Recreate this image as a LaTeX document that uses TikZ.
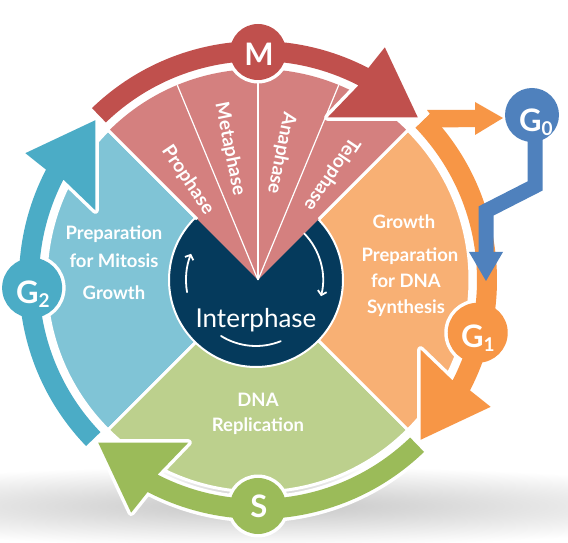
\documentclass[tikz,border=0pt]{standalone}
\usepackage{fontspec}
\setmainfont{Lato}
\usetikzlibrary{arrows.meta}
\definecolor{bandred}{HTML}{C0504D}
\definecolor{secred}{HTML}{D4807F}
\definecolor{bandorange}{HTML}{F79646}
\definecolor{secorange}{HTML}{F8B074}
\definecolor{bandgreen}{HTML}{9BBB59}
\definecolor{secgreen}{HTML}{BCD08D}
\definecolor{bandblue}{HTML}{4BACC6}
\definecolor{secblue}{HTML}{80C4D6}
\definecolor{navy}{HTML}{053A5C}
\definecolor{gzero}{HTML}{4F81BD}
\newcommand{\arrowshape}[2]{\path[#2, rotate=#1] (134:239pt) arc[start angle=134,end angle=62.5,radius=239pt] -- (61.4:265pt) -- (45.5:228pt) -- (66.8:177pt) -- (62.7:219pt) arc[start angle=62.7,end angle=134,radius=219pt] -- cycle;}
\tikzset{
  sector/.style={draw=white, line width=3pt, line join=round},
  whiteout/.style={draw=white, line width=7pt, line join=round},
  lab/.style={text=white, font=\fontsize{18.5}{20}\selectfont\bfseries, inner sep=0pt, text height=13.3pt, text depth=0pt},
  mlab/.style={lab, font=\fontsize{19}{20}\selectfont\bfseries, text height=13.7pt},
  glab/.style={text=white, font=\fontsize{31}{31}\selectfont\bfseries, inner sep=0pt, text height=22.3pt, text depth=0pt},
  inarrow/.style={white, line width=1.8pt, line cap=round}
}
\begin{document}
\begin{tikzpicture}[x=1pt,y=1pt]
\useasboundingbox (-258,-263) rectangle (310,280);
% shadow
\shade[inner color=gray!45, outer color=white] (4,-226) ellipse [x radius=500pt, y radius=40pt];
% sectors
\filldraw[sector, fill=secblue] (0,0) -- (135:212pt) arc[start angle=135,end angle=225,radius=212pt] -- cycle;
\filldraw[sector, fill=secgreen] (0,0) -- (225:212pt) arc[start angle=225,end angle=315,radius=212pt] -- cycle;
\filldraw[sector, fill=secorange] (0,0) -- (-45:212pt) arc[start angle=-45,end angle=45,radius=212pt] -- cycle;
% interphase circle
\filldraw[fill=navy, draw=white, line width=2pt] (-2,0) circle[radius=87pt];
% mitosis wedge
\fill[secred] (0,0) -- (45:211pt) arc[start angle=45,end angle=135,radius=211pt] -- cycle;
\draw[white, line width=3pt] (45:86pt) -- (45:213pt);
\draw[white, line width=3pt] (135:86pt) -- (135:213pt);
\foreach \a in {67.5,90,112.5} \draw[white, line width=1.2pt] (0,0) -- (\a:211pt);
% inner arrows
\begin{scope}[shift={(-2,0)}]
  \draw[inarrow, -{Straight Barb[length=4pt,width=9pt]}] (190:70pt) arc[start angle=190,end angle=158,radius=70pt];
  \draw[inarrow, -{Straight Barb[length=4pt,width=9pt]}] (44:67pt) arc[start angle=44,end angle=-14,radius=67pt];
  \draw[inarrow] (238:66pt) arc[start angle=238,end angle=292,radius=66pt];
\end{scope}
% M arrow
\arrowshape{0}{whiteout}
\path[whiteout] (90:228pt) circle[radius=28pt];
\arrowshape{0}{fill=bandred}
\fill[bandred] (90:228pt) circle[radius=28pt];
% G1 arrow
\arrowshape{-90}{whiteout}
\path[whiteout] (-13.5:226pt) circle[radius=30pt];
\path[whiteout] (44:219pt) -- (218,153) -- (218,170) -- (169,170) -- (44:239pt) -- cycle;
\path[whiteout] (217,178) -- (245,162) -- (217,145) -- cycle;
\arrowshape{-90}{fill=bandorange}
\fill[bandorange] (-13.5:226pt) circle[radius=30pt];
\fill[bandorange] (44:219pt) -- (218,153) -- (218,170) -- (169,170) -- (44:239pt) -- cycle;
\fill[bandorange] (217,178) -- (245,162) -- (217,145) -- cycle;
% S arrow
\arrowshape{-180}{whiteout}
\path[whiteout] (270:226pt) circle[radius=28pt];
\arrowshape{-180}{fill=bandgreen}
\fill[bandgreen] (270:226pt) circle[radius=28pt];
% G2 arrow
\arrowshape{90}{whiteout}
\path[whiteout] (182:226pt) circle[radius=30pt];
\arrowshape{90}{fill=bandblue}
\fill[bandblue] (182:226pt) circle[radius=30pt];
% G0
\fill[gzero] (274,165) circle[radius=27pt];
\draw[gzero, line width=15pt, line join=miter] (277,150) -- (277,94) -- (228,69) -- (228,26);
\fill[gzero] (211,28) -- (245,28) -- (228,-1) -- cycle;
% circle labels
\node[glab] (m) at (1,226) {M};
\node[glab] (gzerolab) at (278,160) {G\raisebox{-4pt}{\fontsize{19}{19}\selectfont 0}};
\node[glab] (gone) at (220,-56) {G\raisebox{-4pt}{\fontsize{19}{19}\selectfont 1}};
\node[glab] (gtwo) at (-225,-12) {G\raisebox{-4pt}{\fontsize{19}{19}\selectfont 2}};
\node[glab] (s) at (1,-226) {S};
% sector labels
\node[lab] (b1) at (-144,47) {Preparation};
\node[lab] (b2) at (-144,19) {for Mitosis};
\node[lab] (b3) at (-144,-13) {Growth};
\node[lab] (o1) at (146,58) {Growth};
\node[lab] (o2) at (152,25) {Preparation};
\node[lab] (o3) at (148,-1) {for DNA};
\node[lab] (o4) at (148,-27) {Synthesis};
\node[lab] (g1) at (0,-120) {DNA};
\node[lab] (g2) at (0,-145) {Replication};
\node[text=white, font=\fontsize{26}{26}\selectfont, inner sep=0pt, text height=18.7pt, text depth=0pt] (inter) at (-2,-38) {Interphase};
% mitosis labels
\node[mlab, rotate=-56.25] (pro) at (124.5:122pt) {Prophase};
\node[mlab, rotate=-78.75] (meta) at (101.5:134pt) {Metaphase};
\node[mlab, rotate=-101.25] (ana) at (79:129pt) {Anaphase};
\node[mlab, rotate=-123.75] (telo) at (54.5:129pt) {Telophase};
\end{tikzpicture}
\end{document}
